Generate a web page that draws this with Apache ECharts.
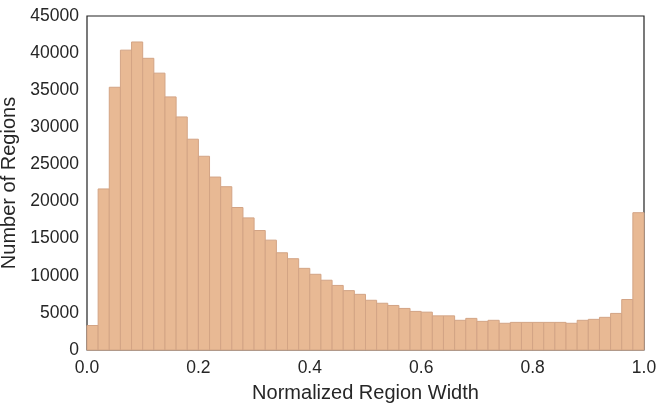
<!DOCTYPE html>
<html>
<head>
<meta charset="utf-8">
<script src="https://cdn.jsdelivr.net/npm/echarts@6/dist/echarts.min.js"></script>
<style>html,body{margin:0;padding:0;background:#fff}#c{width:663px;height:407px}</style>
</head>
<body>
<div id="c"></div>
<script>
const binStart = 0.0;
const binWidth = 0.02;
const counts = [
  3300, 21700, 35400, 40400, 41500, 39300, 37300, 34100, 31400, 28400,
  26100, 23300, 22000, 19200, 17800, 16100, 14800, 13100, 12300, 11000,
  10200, 9400, 8700, 8000, 7500, 6700, 6300, 6000, 5600, 5200,
  5100, 4600, 4600, 4000, 4260, 3860, 4000, 3600, 3720, 3720,
  3720, 3720, 3720, 3600, 4000, 4130, 4400, 4930, 6800, 18500
];
const xTicks = [0.0, 0.2, 0.4, 0.6, 0.8, 1.0];
const yMax = 45000;
const yStep = 5000;
const xTitle = 'Normalized Region Width';
const yTitle = 'Number of Regions';

const data = counts.map((c, i) => [binStart + i * binWidth, binStart + (i + 1) * binWidth, c]);

const chart = echarts.init(document.getElementById('c'), null, {renderer: 'canvas'});
const font = 'Liberation Sans, Arial, sans-serif';
chart.setOption({
  animation: false,
  grid: {left: 87, right: 19, top: 16, bottom: 57, show: true, borderColor: '#222', borderWidth: 1.2,
    containLabel: false, outerBoundsMode: 'none'},
  xAxis: {
    type: 'value', min: 0, max: 1, interval: 0.2,
    name: xTitle, nameLocation: 'middle', nameGap: 33,
    nameTextStyle: {fontFamily: font, fontSize: 20, color: '#262626'},
    axisLine: {show: false}, axisTick: {show: false}, splitLine: {show: false},
    axisLabel: {fontFamily: font, fontSize: 17.5, color: '#262626', margin: 9,
      formatter: v => v.toFixed(1)}
  },
  yAxis: {
    type: 'value', min: 0, max: yMax, interval: yStep,
    name: yTitle, nameLocation: 'middle', nameGap: 67,
    nameTextStyle: {fontFamily: font, fontSize: 20, color: '#262626'},
    axisLine: {show: false}, axisTick: {show: false}, splitLine: {show: false},
    axisLabel: {fontFamily: font, fontSize: 17.5, color: '#262626', margin: 8,
      formatter: v => String(v)}
  },
  series: [{
    type: 'custom',
    data: data,
    renderItem: function (params, api) {
      const p0 = api.coord([api.value(0), api.value(2)]);
      const p1 = api.coord([api.value(1), 0]);
      return {
        type: 'rect',
        shape: {x: p0[0], y: p0[1], width: p1[0] - p0[0], height: p1[1] - p0[1]},
        style: {fill: '#e8b994', stroke: '#d3a485', lineWidth: 1}
      };
    }
  }]
});
</script>
</body>
</html>
